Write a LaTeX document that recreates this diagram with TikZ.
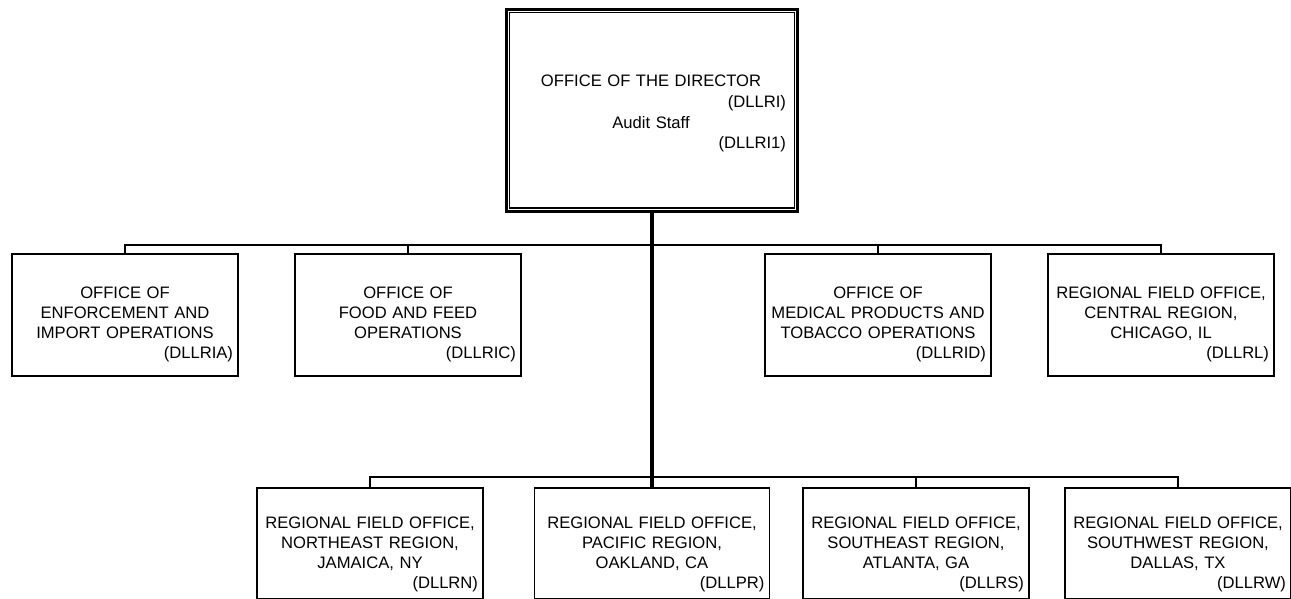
\documentclass[tikz,border=0pt]{standalone}
\usepackage{fontspec}
\setmainfont{Liberation Sans}
\usetikzlibrary{positioning}
\newcommand\unitcode[1]{\\\hspace*{0pt plus 1filll}#1}
\tikzset{
  orgbox/.style={draw, line width=1.8pt, minimum width=226pt, minimum height=122pt, anchor=north, inner sep=0pt},
  fieldbox/.style={orgbox, minimum height=111pt},
  orgtext/.style={anchor=north, align=center, text width=216pt, inner sep=0pt, font=\fontsize{16.6}{20}\selectfont},
  conn/.style={line width=2pt},
  trunk/.style={line width=3.2pt}
}

\begin{document}
\begin{tikzpicture}[x=1pt, y=-1pt]
  \useasboundingbox (0,0) rectangle (1291,599);

  \node[draw, line width=3pt, minimum width=291pt, minimum height=201.5pt, inner sep=0pt] (director) at (652,110.25) {};
  \draw[line width=1.3pt] ([shift={(4.5,4.5)}]director.north west) rectangle ([shift={(-4.5,-4.5)}]director.south east);
  \node[orgtext, text width=270pt, font=\fontsize{16.6}{20.7}\selectfont, below=67pt of director.north, xshift=-1pt] (director-t)
    {OFFICE OF THE DIRECTOR\unitcode{(DLLRI)}\\Audit Staff\unitcode{(DLLRI1)}};

  \node[orgbox] (enf) at (125,253) {};
  \node[orgbox] (food) at (408,253) {};
  \node[orgbox] (med) at (878,253) {};
  \node[orgbox] (central) at (1161,253) {};
  \node[orgtext, below=34pt of enf.north] (enf-t) {OFFICE OF\\ENFORCEMENT AND\\IMPORT OPERATIONS\unitcode{(DLLRIA)}};
  \node[orgtext, below=34pt of food.north] (food-t) {OFFICE OF\\FOOD AND FEED\\OPERATIONS\unitcode{(DLLRIC)}};
  \node[orgtext, below=34pt of med.north] (med-t) {OFFICE OF\\MEDICAL PRODUCTS AND\\TOBACCO OPERATIONS\unitcode{(DLLRID)}};
  \node[orgtext, below=34pt of central.north] (central-t) {REGIONAL FIELD OFFICE,\\CENTRAL REGION,\\CHICAGO, IL\unitcode{(DLLRL)}};

  \node[fieldbox] (northeast) at (370,487) {};
  \node[fieldbox, minimum width=235pt] (pacific) at (652,487) {};
  \node[fieldbox] (southeast) at (916,487) {};
  \node[fieldbox] (southwest) at (1178,487) {};
  \node[orgtext, below=30pt of northeast.north] (northeast-t) {REGIONAL FIELD OFFICE,\\NORTHEAST REGION,\\JAMAICA, NY\unitcode{(DLLRN)}};
  \node[orgtext, text width=225pt, below=30pt of pacific.north] (pacific-t) {REGIONAL FIELD OFFICE,\\PACIFIC REGION,\\OAKLAND, CA\unitcode{(DLLPR)}};
  \node[orgtext, below=30pt of southeast.north] (southeast-t) {REGIONAL FIELD OFFICE,\\SOUTHEAST REGION,\\ATLANTA, GA\unitcode{(DLLRS)}};
  \node[orgtext, below=30pt of southwest.north] (southwest-t) {REGIONAL FIELD OFFICE,\\SOUTHWEST REGION,\\DALLAS, TX\unitcode{(DLLRW)}};

  \coordinate (upbus) at ([yshift=-32.5pt]director.south);
  \coordinate (lowbus) at ([yshift=10pt]pacific.north);
  \draw[conn] (upbus) -| (enf.north);
  \draw[conn] (upbus) -| (food.north);
  \draw[conn] (upbus) -| (med.north);
  \draw[conn] (upbus) -| (central.north);
  \draw[conn] (lowbus) -| (northeast.north);
  \draw[conn] (lowbus) -| (southeast.north);
  \draw[conn] (lowbus) -| (southwest.north);
  \draw[trunk] (director.south) -- (pacific.north);
\end{tikzpicture}
\end{document}
